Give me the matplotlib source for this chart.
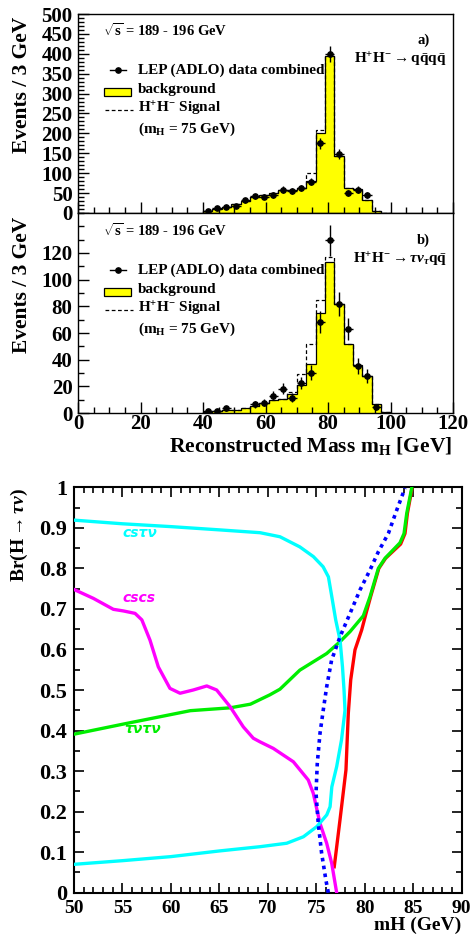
import numpy as np
import matplotlib
matplotlib.use('Agg')
import matplotlib.pyplot as plt
from matplotlib.ticker import MultipleLocator, FuncFormatter
from matplotlib.lines import Line2D
from matplotlib.patches import Rectangle

plt.rcParams['font.family'] = ['Liberation Serif', 'DejaVu Serif']
plt.rcParams['font.weight'] = 'bold'
plt.rcParams['mathtext.fontset'] = 'custom'
plt.rcParams['mathtext.rm'] = 'Liberation Serif:bold'
plt.rcParams['mathtext.it'] = 'Liberation Serif:italic:bold'
plt.rcParams['mathtext.bf'] = 'Liberation Serif:bold'

# ---------------- data: histograms (3 GeV bins, 40-100 GeV) ----------------
bin_low = 40
bin_width = 3
n_bins = 20

bg_a = [4, 9, 15, 22, 31, 40, 45, 50, 57, 59, 64, 80, 202, 394, 143, 63, 60, 33, 6, 1]
sig_a = [4, 9, 15, 22, 31, 40, 45, 50, 57, 59, 64, 101, 208, 394, 143, 63, 60, 33, 6, 1]
data_a = [5, 12, 16, 18, 32, 42, 41, 45, 59, 56, 62, 79, 175, 400, 148, 51, 59, 45, np.nan, np.nan]

bg_b = [1, 1.5, 2, 2.5, 3.5, 5.5, 7.5, 9.5, 10.5, 14, 21, 36.5, 75, 113, 81.5, 52, 36, 28, 6.5, 1]
sig_b = [1, 1.5, 2, 2.5, 3.5, 5.5, 7.5, 9.5, 10.5, 16, 29, 51.5, 84.5, 117, 81.5, 52, 36, 28, 6.5, 1]
data_b = [1.5, 1.5, 3.5, np.nan, np.nan, 6.5, 7.8, 13, 18.3, 11.5, 22.4, 30.3, 68.5, 129.5, 82, 63, 35, 27.5, 4.8, np.nan]

# ---------------- data: branching-ratio curves ----------------
cstv_x = [50, 55, 60, 65, 69.2, 71.25, 73.3, 74.7, 75.7, 76.25, 76.6, 77.0, 77.45, 77.7, 77.86, 77.96,
          77.6, 77.1, 76.6, 76.42, 76.08, 75.05, 73.67, 71.95, 69.2, 65, 60, 55, 50]
cstv_y = [0.919, 0.91, 0.903, 0.895, 0.888, 0.878, 0.853, 0.829, 0.804, 0.779, 0.73, 0.673, 0.623, 0.557, 0.5, 0.45,
          0.377, 0.311, 0.261, 0.212, 0.192, 0.163, 0.138, 0.122, 0.1135, 0.103, 0.089, 0.079, 0.07]

cscs_x = [50, 52, 54.06, 55.1, 56.3, 57.0, 57.84, 58.7, 59.9, 60.94, 62.3, 63.7, 64.72, 66.1, 67.47, 68.5,
          69.2, 70.56, 72.63, 74.17, 74.69, 75.38, 76.07, 76.59, 77.1]
cscs_y = [0.748, 0.726, 0.699, 0.695, 0.689, 0.673, 0.623, 0.557, 0.504, 0.492, 0.5, 0.51, 0.5, 0.459, 0.409, 0.381,
          0.372, 0.356, 0.323, 0.278, 0.245, 0.171, 0.122, 0.0725, 0.0]

tntn_x = [50, 55.1, 62.0, 66.1, 68.2, 70.2, 71.25, 73.3, 76.07, 77.44, 78.48, 79.85, 80.54, 81.4, 82.09,
          83.63, 84.05, 84.33, 84.84]
tntn_y = [0.391, 0.416, 0.449, 0.456, 0.465, 0.488, 0.502, 0.549, 0.59, 0.619, 0.644, 0.683, 0.73, 0.8, 0.825,
          0.863, 0.886, 0.936, 0.998]

comb_x = [76.85, 77.44, 78.06, 78.3, 78.55, 78.99, 79.68, 80.13, 80.6, 81.45, 82.15, 83.7, 84.15, 84.4, 84.88]
comb_y = [0.064, 0.179, 0.303, 0.442, 0.525, 0.599, 0.648, 0.689, 0.73, 0.8, 0.825, 0.86, 0.886, 0.936, 0.998]

exp_x = [76.24, 75.99, 75.55, 75.2, 74.97, 75.1, 75.38, 75.72, 76.07, 76.58, 77.44, 78.48, 79.51, 80.54,
         81.4, 82.43, 83.3, 84.15]
exp_y = [0.0, 0.031, 0.097, 0.171, 0.245, 0.319, 0.393, 0.451, 0.508, 0.574, 0.631, 0.689, 0.747, 0.796,
         0.841, 0.886, 0.944, 0.998]

# ---------------- figure ----------------
W, H = 471, 938
fig = plt.figure(figsize=(W / 100, H / 100), dpi=100)


def rect(l, t, r, b):
    return [l / W, 1 - b / H, (r - l) / W, (b - t) / H]


def fx(x):
    return x / W


def fy(y):
    return 1 - y / H


axa = fig.add_axes(rect(78, 14, 453, 213))
axb = fig.add_axes(rect(78, 213, 453, 413))
axc = fig.add_axes(rect(74, 487.3, 461.7, 892.7))

edges = bin_low + bin_width * np.arange(n_bins + 1)
centers = 0.5 * (edges[:-1] + edges[1:])

yellow = '#ffff00'


def draw_hist(ax, bg, sig, data, ymax, major, minor):
    ax.stairs(bg, edges, fill=True, facecolor=yellow, edgecolor='none', zorder=1)
    ax.stairs(bg, edges, color='black', lw=0.9, zorder=2)
    ax.stairs(sig, edges, color='black', lw=0.9, linestyle=(0, (3, 2)), zorder=3)
    d = np.array(data, dtype=float)
    ax.errorbar(centers, d, yerr=np.sqrt(d), xerr=bin_width / 2, fmt='o', ms=3.8,
                color='black', ecolor='black', elinewidth=1.0, capsize=0, zorder=5)
    ax.set_xlim(0, 120)
    ax.set_ylim(0, ymax)
    ax.xaxis.set_major_locator(MultipleLocator(20))
    ax.xaxis.set_minor_locator(MultipleLocator(5))
    ax.yaxis.set_major_locator(MultipleLocator(major))
    ax.yaxis.set_minor_locator(MultipleLocator(minor))
    ax.tick_params(which='both', direction='in', top=False, right=False, labelsize=15, pad=4)
    ax.tick_params(axis='x', which='both', pad=1)
    ax.tick_params(which='major', length=8, width=1)
    ax.tick_params(which='minor', length=4, width=1)
    for s in ax.spines.values():
        s.set_linewidth(1.0)
    for lab in ax.get_xticklabels() + ax.get_yticklabels():
        lab.set_fontweight('bold')


draw_hist(axa, bg_a, sig_a, data_a, 500, 50, 10)
draw_hist(axb, bg_b, sig_b, data_b, 150, 20, 10)
axa.tick_params(labelbottom=False)
axb.set_yticks([0, 20, 40, 60, 80, 100, 120])
for lab in axb.get_yticklabels():
    lab.set_fontweight('bold')

# texts and legends for histogram panels
for dy, tag, proc in [(0, 'a)', r'$\mathrm{H^{+}H^{-}}\rightarrow\mathrm{q\bar{q}q\bar{q}}$'),
                      (200, 'b)', r'$\mathrm{H^{+}H^{-}}\rightarrow\tau\nu_{\tau}\mathrm{q\bar{q}}$')]:
    fig.text(fx(103), fy(30 + dy), r'$\sqrt{\mathrm{s}}$ = 189 - 196 GeV', fontsize=10.5,
             fontweight='bold', ha='left', va='center')
    fig.text(fx(430), fy(40 + dy), tag, fontsize=10.5, fontweight='bold', ha='right', va='center')
    fig.text(fx(447), fy(60 + dy), proc, fontsize=11, ha='right', va='center')
    # legend
    fig.add_artist(Line2D([fx(110), fx(126)], [fy(70 + dy)] * 2, color='black', lw=1.0,
                          transform=fig.transFigure))
    fig.add_artist(Line2D([fx(118)], [fy(70 + dy)], marker='o', ms=3.8, color='black',
                          transform=fig.transFigure))
    fig.text(fx(138), fy(70 + dy), 'LEP (ADLO) data combined', fontsize=11, fontweight='bold',
             ha='left', va='center')
    fig.add_artist(Rectangle((fx(104), fy(96 + dy)), (131 - 104) / W, 8 / H, facecolor=yellow,
                             edgecolor='black', lw=0.9, transform=fig.transFigure))
    fig.text(fx(138), fy(90 + dy), 'background', fontsize=11, fontweight='bold', ha='left', va='center')
    fig.add_artist(Line2D([fx(105), fx(133)], [fy(110 + dy)] * 2, color='black', lw=0.9,
                          linestyle=(0, (3, 2)), transform=fig.transFigure))
    fig.text(fx(138), fy(109 + dy), r'H$^{+}$H$^{-}$ Signal', fontsize=11, fontweight='bold',
             ha='left', va='center')
    fig.text(fx(138), fy(129 + dy), r'(m$_{\mathrm{H}}$ = 75 GeV)', fontsize=11, fontweight='bold',
             ha='left', va='center')
    fig.text(fx(22), fy(17 + dy), 'Events / 3 GeV', rotation=90, fontsize=15.5, fontweight='bold',
             ha='center', va='top')

fig.text(fx(452), fy(452), r'Reconstructed Mass m$_{\mathrm{H}}$ [GeV]', fontsize=15.5, fontweight='bold',
         ha='right', va='baseline')

# ---------------- branching ratio panel ----------------
lw = 2.4
axc.plot(comb_x, comb_y, color='#ff0000', lw=lw, zorder=2)
axc.plot(tntn_x, tntn_y, color='#00ee00', lw=lw, zorder=3)
axc.plot(cscs_x, cscs_y, color='#ff00ff', lw=lw, zorder=4)
axc.plot(cstv_x, cstv_y, color='#00ffff', lw=lw, zorder=5)
axc.plot(exp_x, exp_y, color='#0000ff', lw=2.6, linestyle=(0, (1, 1.2)), zorder=6)

axc.text(55.0, 0.887, 'csτν', color='#00ffff', fontsize=10, fontstyle='italic',
         family='DejaVu Sans', fontweight='bold', ha='left', va='center')
axc.text(55.0, 0.727, 'cscs', color='#ff00ff', fontsize=10, fontstyle='italic',
         family='DejaVu Sans', fontweight='bold', ha='left', va='center')
axc.text(55.2, 0.404, 'τντν', color='#00ee00', fontsize=10, fontstyle='italic',
         family='DejaVu Sans', fontweight='bold', ha='left', va='center')

axc.set_xlim(50, 90)
axc.set_ylim(0, 1)
axc.xaxis.set_major_locator(MultipleLocator(5))
axc.xaxis.set_minor_locator(MultipleLocator(1))
axc.yaxis.set_major_locator(MultipleLocator(0.1))
axc.yaxis.set_minor_locator(MultipleLocator(0.05))
axc.yaxis.set_major_formatter(FuncFormatter(lambda v, p: '%g' % round(v, 2)))
axc.tick_params(which='both', direction='in', top=True, right=True)
axc.tick_params(axis='x', labelsize=14, pad=5)
axc.tick_params(axis='y', labelsize=16, pad=5)
axc.tick_params(which='major', length=7, width=1.2)
axc.tick_params(which='minor', length=4, width=1.2)
for s in axc.spines.values():
    s.set_linewidth(1.5)
for lab in axc.get_xticklabels() + axc.get_yticklabels():
    lab.set_fontweight('bold')

fig.text(fx(461), fy(925), 'mH (GeV)', fontsize=14, fontweight='bold', ha='right', va='center')
fig.text(fx(19), fy(488), r'Br(H$\rightarrow\tau\nu$)', rotation=90, fontsize=14, fontweight='bold',
         ha='center', va='top')

fig.savefig('out.png', dpi=100)
